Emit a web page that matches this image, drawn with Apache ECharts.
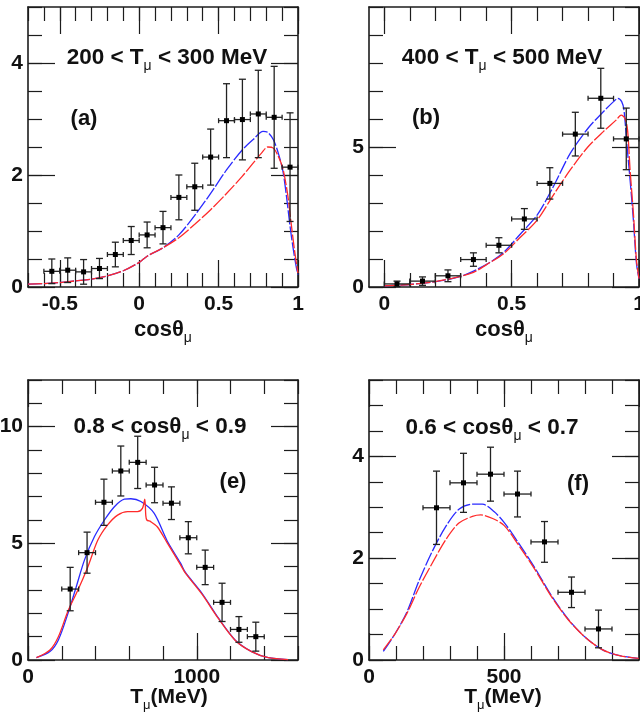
<!DOCTYPE html>
<html>
<head>
<meta charset="utf-8">
<script src="https://cdn.jsdelivr.net/npm/echarts@6/dist/echarts.min.js"></script>
<style>
  html, body { margin: 0; padding: 0; background: #ffffff; }
  #chart { width: 640px; height: 716px; }
</style>
</head>
<body>
<div id="chart"></div>
<script>
// ---- (a) 200 < Tμ < 300 MeV, distribution in cosθμ ----
const aCos  = [-0.55, -0.45, -0.35, -0.25, -0.15, -0.05, 0.05, 0.15, 0.25, 0.35, 0.45, 0.55, 0.65, 0.75, 0.85, 0.95];
const aData = [0.28, 0.30, 0.27, 0.33, 0.58, 0.83, 0.93, 1.06, 1.60, 1.79, 2.32, 2.97, 2.99, 3.09, 3.03, 2.14];
const aErr  = [0.22, 0.22, 0.22, 0.18, 0.22, 0.25, 0.23, 0.29, 0.40, 0.42, 0.50, 0.66, 0.72, 0.78, 0.91, 0.97];
const aBlueX = [-0.7, -0.6, -0.5, -0.4, -0.3, -0.2, -0.1, 0, 0.05, 0.15, 0.25, 0.35, 0.45, 0.55, 0.65, 0.72, 0.78, 0.81, 0.845, 0.875, 0.905, 0.93, 0.95, 0.97, 0.99, 1.0];
const aBlue  = [0.05, 0.06, 0.08, 0.11, 0.14, 0.20, 0.29, 0.44, 0.55, 0.70, 0.93, 1.28, 1.67, 2.09, 2.45, 2.64, 2.78, 2.76, 2.63, 2.40, 2.07, 1.56, 1.08, 0.68, 0.34, 0.22];
const aRedX  = [-0.7, -0.6, -0.5, -0.4, -0.3, -0.2, -0.1, 0, 0.05, 0.15, 0.25, 0.35, 0.45, 0.55, 0.65, 0.72, 0.77, 0.81, 0.845, 0.875, 0.905, 0.935, 0.955, 0.975, 0.99, 1.0];
const aRed   = [0.05, 0.06, 0.08, 0.11, 0.14, 0.20, 0.29, 0.44, 0.55, 0.70, 0.88, 1.12, 1.38, 1.67, 1.98, 2.22, 2.39, 2.50, 2.48, 2.34, 2.11, 1.65, 1.18, 0.72, 0.42, 0.25];
const aXTicks = [-0.5, 0, 0.5, 1];
const aXLabels = [-0.5, 0, 0.5, 1];
const aYTicks = [0, 2, 4];

// ---- (b) 400 < Tμ < 500 MeV, distribution in cosθμ ----
const bCos  = [0.05, 0.15, 0.25, 0.35, 0.45, 0.55, 0.65, 0.75, 0.85, 0.95];
const bData = [0.11, 0.21, 0.40, 0.98, 1.49, 2.43, 3.70, 5.46, 6.74, 5.29];
const bErr  = [0.10, 0.15, 0.21, 0.24, 0.27, 0.37, 0.56, 0.78, 1.07, 1.10];
const bBlueX = [0, 0.1, 0.2, 0.3, 0.4, 0.47, 0.53, 0.6, 0.66, 0.73, 0.8, 0.86, 0.9, 0.917, 0.932, 0.941, 0.952, 0.965, 0.978, 0.99, 1.0];
const bBlue  = [0.04, 0.09, 0.19, 0.38, 0.80, 1.25, 1.85, 2.57, 3.52, 4.77, 5.67, 6.26, 6.62, 6.74, 6.62, 6.32, 5.13, 3.82, 2.39, 0.84, 0.30];
const bRedX  = [0, 0.1, 0.2, 0.3, 0.35, 0.4, 0.47, 0.53, 0.6, 0.66, 0.73, 0.8, 0.86, 0.91, 0.93, 0.945, 0.955, 0.965, 0.978, 0.99, 1.0];
const bRed   = [0.04, 0.09, 0.19, 0.38, 0.52, 0.79, 1.20, 1.74, 2.39, 3.23, 4.18, 5.01, 5.55, 5.96, 6.14, 6.02, 5.61, 4.18, 2.63, 0.96, 0.30];
const bXTicks = [0, 0.5, 1];
const bXLabels = [0, 0.5, 1];
const bYTicks = [0, 5];

// ---- (e) 0.8 < cosθμ < 0.9, distribution in Tμ (MeV) ----
const eT    = [250, 350, 450, 550, 650, 750, 850, 950, 1050, 1150, 1250, 1350];
const eData = [3.04, 4.60, 6.76, 8.10, 8.47, 7.50, 6.72, 5.24, 3.97, 2.47, 1.31, 1.00];
const eErr  = [0.93, 0.88, 0.99, 1.07, 1.12, 0.76, 0.70, 0.69, 0.74, 0.82, 0.55, 0.62];
const eBlueT = [50, 130, 180, 237, 286, 335, 394, 453, 512, 571, 610, 669, 747, 825, 904, 933, 1031, 1129, 1227, 1325, 1424, 1541];
const eBlue  = [0.10, 0.36, 0.86, 2.00, 3.14, 4.29, 5.29, 6.00, 6.57, 6.89, 6.91, 6.79, 6.29, 5.10, 4.15, 3.75, 2.86, 1.79, 0.86, 0.36, 0.10, 0.02];
const eRedT  = [50, 130, 180, 237, 296, 355, 414, 472, 531, 590, 649, 678, 692, 698, 704, 727, 766, 825, 904, 933, 1031, 1129, 1227, 1325, 1424, 1541];
const eRed   = [0.10, 0.43, 1.00, 2.10, 3.00, 4.00, 5.14, 5.79, 6.21, 6.36, 6.36, 6.50, 6.89, 6.20, 6.00, 5.93, 5.71, 5.02, 4.08, 3.72, 2.82, 1.77, 0.85, 0.36, 0.10, 0.02];
const eXTicks = [0, 1000];
const eXLabels = [0, 1000];
const eYTicks = [0, 5, 10];

// ---- (f) 0.6 < cosθμ < 0.7, distribution in Tμ (MeV) ----
const fT    = [250, 350, 450, 550, 650, 750, 850];
const fData = [2.99, 3.48, 3.65, 3.26, 2.32, 1.33, 0.61];
const fErr  = [0.72, 0.58, 0.53, 0.45, 0.40, 0.30, 0.37];
const fBlueT = [53, 97, 141, 184, 234, 284, 333, 383, 420, 464, 501, 551, 613, 675, 738, 800, 862, 924, 999];
const fBlue  = [0.17, 0.52, 0.95, 1.54, 2.13, 2.62, 2.96, 3.06, 3.06, 2.91, 2.70, 2.32, 1.82, 1.27, 0.80, 0.45, 0.21, 0.09, 0.03];
const fRedT  = [53, 97, 141, 184, 234, 284, 333, 383, 414, 458, 501, 551, 613, 675, 738, 800, 862, 924, 999];
const fRed   = [0.20, 0.52, 0.92, 1.41, 1.90, 2.36, 2.69, 2.82, 2.85, 2.78, 2.64, 2.28, 1.79, 1.25, 0.79, 0.45, 0.21, 0.09, 0.03];
const fXTicks = [0, 500, 1000];
const fXLabels = [0, 500];
const fYTicks = [0, 2, 4];

const FONT = '"Liberation Sans", Arial, Helvetica, sans-serif';
const INK = '#111111';
const FRAME = '#1c1c1c';
const BLUE = '#2a2aff';
const RED = '#ff2a2a';

// frame layout and axis ranges for each pad
const panels = [
  { left: 28,  top: 7,   xMin: -0.7, xMax: 1.0,  yMax: 5,   xMajor: aXTicks, xLabels: aXLabels, xStep: 0.1, yMajor: aYTicks, yStep: 0.5, xErr: 0.05,
    px: aCos, py: aData, pe: aErr, bx: aBlueX, by: aBlue, rx: aRedX, ry: aRed },
  { left: 369, top: 7,   xMin: -0.06, xMax: 1.0, yMax: 10,  xMajor: bXTicks, xLabels: bXLabels, xStep: 0.1, yMajor: bYTicks, yStep: 1,   xErr: 0.05,
    px: bCos, py: bData, pe: bErr, bx: bBlueX, by: bBlue, rx: bRedX, ry: bRed },
  { left: 28,  top: 380, xMin: 0,    xMax: 1600, yMax: 12,  xMajor: eXTicks, xLabels: eXLabels, xStep: 200, yMajor: eYTicks, yStep: 1,   xErr: 50,
    px: eT, py: eData, pe: eErr, bx: eBlueT, by: eBlue, rx: eRedT, ry: eRed },
  { left: 369, top: 380, xMin: 0,    xMax: 1000, yMax: 5.5, xMajor: fXTicks, xLabels: fXLabels, xStep: 100, yMajor: fYTicks, yStep: 0.5, xErr: 50,
    px: fT, py: fData, pe: fErr, bx: fBlueT, by: fBlue, rx: fRedT, ry: fRed }
];
const PAD_W = 270, PAD_H = 280;
const MAJOR_LEN = 27, MINOR_LEN = 14;

function stepValues(min, max, step) {
  const out = [];
  for (let k = Math.ceil(min / step - 1e-9); k * step <= max + 1e-9; k++) {
    out.push(Math.round(k * step * 1000) / 1000);
  }
  return out;
}

const tickLine = { color: FRAME, width: 1.2 };
const labelStyle = { fontFamily: FONT, fontWeight: 'bold', fontSize: 21, color: INK };

function frameAxes(dim, g, min, max, majors, labels, minors, sides) {
  const base = {
    type: 'value', gridIndex: g, min: min, max: max,
    splitLine: { show: false }, axisLabel: { show: false },
    axisTick: { show: false }, axisLine: { show: false }
  };
  const list = [];
  sides.forEach((side, s) => {
    list.push(Object.assign({}, base, {
      position: side,
      axisLine: { show: true, onZero: false, lineStyle: { color: FRAME, width: 1.6 } },
      axisTick: { show: true, inside: true, length: MAJOR_LEN, customValues: majors, lineStyle: tickLine },
      axisLabel: s === 0 ? Object.assign({
        show: true, customValues: labels, margin: dim === 'x' ? 7 : 5,
        formatter: v => String(v), hideOverlap: false, showMinLabel: true, showMaxLabel: true
      }, labelStyle) : { show: false }
    }));
    list.push(Object.assign({}, base, {
      position: side,
      axisLine: { show: false, onZero: false },
      axisTick: { show: true, inside: true, length: MINOR_LEN, customValues: minors, lineStyle: tickLine }
    }));
  });
  return list;
}

const grids = [], xAxes = [], yAxes = [], series = [];

panels.forEach((p, g) => {
  grids.push({ left: p.left, top: p.top, width: PAD_W, height: PAD_H, outerBoundsMode: 'none' });
  const xi = xAxes.length, yi = yAxes.length;
  xAxes.push(...frameAxes('x', g, p.xMin, p.xMax, p.xMajor, p.xLabels, stepValues(p.xMin, p.xMax, p.xStep), ['bottom', 'top']));
  yAxes.push(...frameAxes('y', g, 0, p.yMax, p.yMajor, p.yMajor, stepValues(0, p.yMax, p.yStep), ['left', 'right']));

  const curve = (xs, ys, color, z) => ({
    type: 'line', xAxisIndex: xi, yAxisIndex: yi,
    data: xs.map((x, i) => [x, ys[i]]),
    showSymbol: false, smooth: 0.3, clip: true, silent: true, z: z,
    lineStyle: { color: color, width: 1.3, type: g === 2 ? 'solid' : [14, 2] }
  });
  // blue underneath, red drawn over it where the two coincide
  series.push(curve(p.bx, p.by, BLUE, 3));
  series.push(curve(p.rx, p.ry, RED, 4));

  // measured points: square marker with x (bin) and y (uncertainty) bars
  series.push({
    type: 'custom', xAxisIndex: xi, yAxisIndex: yi, silent: true, z: 5,
    data: p.px.map((x, i) => [x, p.py[i], p.xErr, p.pe[i]]),
    renderItem: (params, api) => {
      const x = api.value(0), y = api.value(1), dx = api.value(2), dy = api.value(3);
      const c = api.coord([x, y]);
      const l = api.coord([x - dx, y]), r = api.coord([x + dx, y]);
      const t = api.coord([x, y + dy]), b = api.coord([x, y - dy]);
      const st = { stroke: '#222', lineWidth: 1.3 };
      const seg = (x1, y1, x2, y2) => ({ type: 'line', shape: { x1, y1, x2, y2 }, style: st });
      return {
        type: 'group',
        children: [
          seg(l[0], c[1], r[0], c[1]),
          seg(c[0], t[1], c[0], b[1]),
          seg(c[0] - 3.5, t[1], c[0] + 3.5, t[1]),
          seg(c[0] - 3.5, b[1], c[0] + 3.5, b[1]),
          seg(l[0], c[1] - 2.5, l[0], c[1] + 2.5),
          seg(r[0], c[1] - 2.5, r[0], c[1] + 2.5),
          { type: 'rect', shape: { x: c[0] - 2.5, y: c[1] - 2.5, width: 5, height: 5 }, style: { fill: '#000' } }
        ]
      };
    }
  });
});

// text with a lowered μ
function richText(x, y, str, size) {
  return {
    type: 'text', x: x, y: y, silent: true, z: 10,
    style: {
      text: str, align: 'center', verticalAlign: 'middle',
      rich: {
        m: { fontFamily: FONT, fontWeight: 'bold', fontSize: size, lineHeight: size + 8, fill: INK },
        s: { fontFamily: FONT, fontWeight: 'normal', fontSize: Math.round(size * 0.62), lineHeight: 14, verticalAlign: 'bottom', fill: INK }
      }
    }
  };
}

const graphics = [
  richText(167, 58, '{m|200 < T}{s|μ}{m| < 300 MeV}', 22.5),
  richText(502, 58, '{m|400 < T}{s|μ}{m| < 500 MeV}', 22.5),
  richText(84, 119, '{m|(a)}', 22),
  richText(426, 118, '{m|(b)}', 22),
  richText(163, 330, '{m|cosθ}{s|μ}', 22),
  richText(504, 330, '{m|cosθ}{s|μ}', 22),
  richText(160, 427, '{m|0.8 < cosθ}{s|μ}{m| < 0.9}', 22.5),
  richText(492, 428, '{m|0.6 < cosθ}{s|μ}{m| < 0.7}', 22.5),
  richText(233, 482, '{m|(e)}', 22),
  richText(578, 484, '{m|(f)}', 22),
  richText(169, 697, '{m|T}{s|μ}{m|(MeV)}', 21),
  richText(503, 697, '{m|T}{s|μ}{m|(MeV)}', 21)
];

const chart = echarts.init(document.getElementById('chart'), null, { renderer: 'canvas', width: 640, height: 716 });
chart.setOption({
  backgroundColor: '#ffffff',
  animation: false,
  grid: grids,
  xAxis: xAxes,
  yAxis: yAxes,
  series: series,
  graphic: graphics
});
</script>
</body>
</html>
